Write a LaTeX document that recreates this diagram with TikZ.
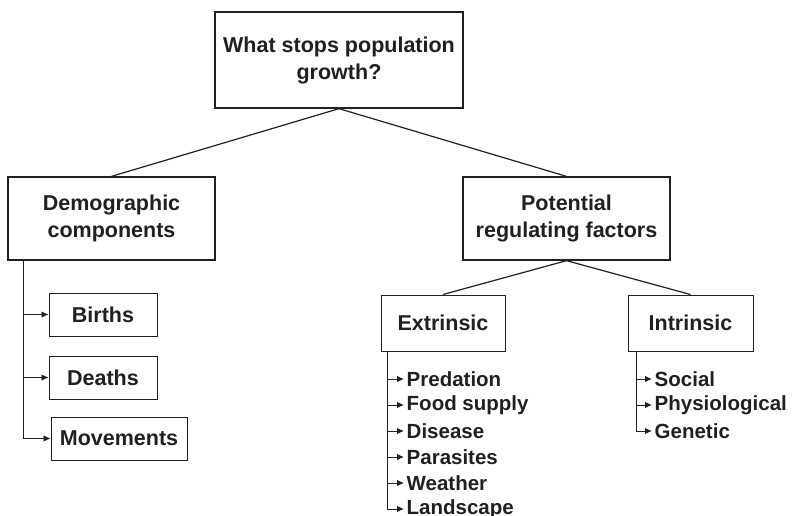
\documentclass[tikz,border=0pt]{standalone}
\usepackage{fontspec}
\setmainfont{Liberation Sans}
\usepackage{tikz}
\usetikzlibrary{arrows.meta}
\definecolor{ink}{HTML}{231F20}

\begin{document}
\begin{tikzpicture}[x=1pt,y=-1pt,
  every node/.style={text=ink,font=\bfseries\fontsize{21.5}{27}\selectfont,align=center,inner sep=0pt},
  box/.style={draw=ink,line width=1.3pt},
  smallbox/.style={draw=ink,line width=1pt},
  item/.style={anchor=west,inner xsep=2.5pt,font=\bfseries\fontsize{20.5}{26}\selectfont},
  link/.style={draw=ink,line width=1.2pt},
  feed/.style={draw=ink,line width=0.9pt,-{Latex[length=7pt,width=6.5pt]}}]
  \useasboundingbox (0,0) rectangle (794,515);
  % main boxes
  \node[box,minimum width=248pt,minimum height=96pt] (Q) at (339,60) {What stops population\\growth?};
  \node[box,minimum width=207pt,minimum height=83pt] (D) at (111.5,218.5) {Demographic\\components};
  \node[box,minimum width=207pt,minimum height=83pt] (P) at (566.5,218.5) {Potential\\regulating factors};
  \node[smallbox,minimum width=124pt,minimum height=56pt] (E) at (443,323) {Extrinsic};
  \node[smallbox,minimum width=125pt,minimum height=56pt] (I) at (690.5,323) {Intrinsic};
  \draw[link] (Q.south) -- (D.north);
  \draw[link] (Q.south) -- (P.north);
  \draw[link] (P.south) -- (E.north);
  \draw[link] (P.south) -- (I.north);
  % demographic components
  \node[smallbox,minimum width=108pt,minimum height=43pt] (B) at (103,314.5) {Births};
  \node[smallbox,minimum width=108pt,minimum height=43pt] (De) at (103,377.5) {Deaths};
  \node[smallbox,minimum width=136pt,minimum height=43pt] (M) at (119,438.5) {Movements};
  \coordinate (Dtop) at (23,260);
  \coordinate (Dbot) at (23,438.5);
  \draw[draw=ink,line width=0.9pt] (Dtop) -- (Dbot);
  \draw[feed] (23,314.5) -- (B.west);
  \draw[feed] (23,377.5) -- (De.west);
  \draw[feed] (Dbot) -- (M.west);
  % extrinsic factors
  \node[item] (E1) at (404,379) {Predation};
  \node[item] (E2) at (404,405) {Food supply};
  \node[item] (E3) at (404,431) {Disease};
  \node[item] (E4) at (404,457) {Parasites};
  \node[item] (E5) at (404,483) {Weather};
  \node[item] (E6) at (404,509) {Landscape};
  \coordinate (Etop) at (387,351);
  \coordinate (Ebot) at (387,509);
  \draw[draw=ink,line width=0.9pt] (Etop) -- (Ebot);
  \draw[feed] (387,379) -- (E1.west);
  \draw[feed] (387,405) -- (E2.west);
  \draw[feed] (387,431) -- (E3.west);
  \draw[feed] (387,457) -- (E4.west);
  \draw[feed] (387,483) -- (E5.west);
  \draw[feed] (Ebot) -- (E6.west);
  % intrinsic factors
  \node[item] (I1) at (652,379) {Social};
  \node[item] (I2) at (652,405) {Physiological};
  \node[item] (I3) at (652,431) {Genetic};
  \coordinate (Itop) at (636,351);
  \coordinate (Ibot) at (636,431);
  \draw[draw=ink,line width=0.9pt] (Itop) -- (Ibot);
  \draw[feed] (636,379) -- (I1.west);
  \draw[feed] (636,405) -- (I2.west);
  \draw[feed] (Ibot) -- (I3.west);
\end{tikzpicture}
\end{document}
